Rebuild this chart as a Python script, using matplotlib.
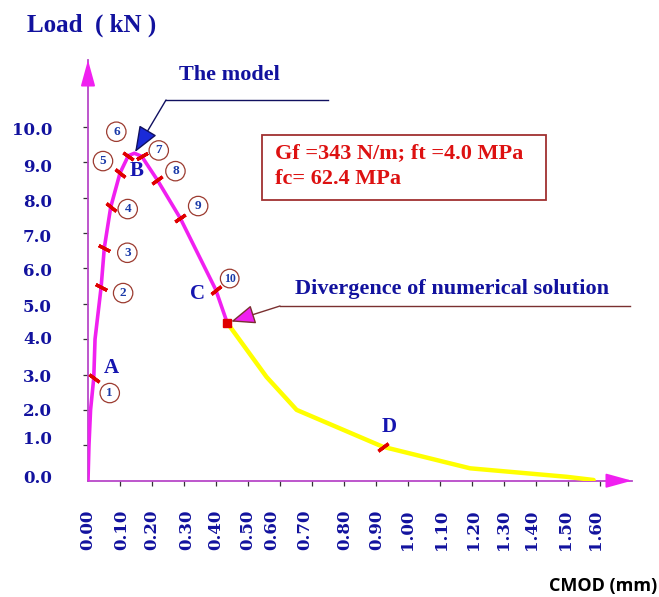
import numpy as np
import matplotlib
matplotlib.use('Agg')
import matplotlib.pyplot as plt
from matplotlib.lines import Line2D
from matplotlib.patches import Rectangle
from matplotlib.transforms import offset_copy

# model curve (magenta)
model_cmod = [0.0, 0.003, 0.008, 0.018, 0.022, 0.041, 0.051, 0.071, 0.100,
              0.126, 0.145, 0.168, 0.217, 0.288, 0.399, 0.435]
model_load = [0.0, 1.0, 2.0, 2.9, 4.0, 5.47, 6.58, 7.73, 8.69,
              9.18, 9.25, 9.16, 8.49, 7.42, 5.40, 4.46]

# after divergence (yellow)
tail_cmod = [0.435, 0.558, 0.652, 0.921, 1.194, 1.496, 1.58]
tail_load = [4.46, 2.93, 2.00, 0.96, 0.35, 0.11, 0.02]

# numbered load steps
step_cmod = [0.018, 0.041, 0.051, 0.071, 0.100, 0.126, 0.168, 0.217, 0.288, 0.399]
step_load = [2.9, 5.47, 6.58, 7.73, 8.69, 9.18, 9.16, 8.49, 7.42, 5.40]
step_tags = ['1', '2', '3', '4', '5', '6', '7', '8', '9', '10']

diverge_pt = (0.435, 4.46)
peak_pt = (0.145, 9.25)
point_d = (0.921, 0.96)

x_ticks = [0.0, 0.1, 0.2, 0.3, 0.4, 0.5, 0.6, 0.7, 0.8, 0.9, 1.0,
           1.1, 1.2, 1.3, 1.4, 1.5, 1.6]
x_labels = ['%.2f' % v for v in x_ticks]
y_ticks = [0, 1, 2, 3, 4, 5, 6, 7, 8, 9, 10]
y_labels = ['%.1f' % v for v in y_ticks]

params_text = 'Gf =343 N/m; ft =4.0 MPa\nfc= 62.4 MPa'

W, H = 659, 597
BLUE = '#12129e'
MAGENTA = '#f020f0'
AXCOL = '#b848c8'
RED = '#e00000'
SERIF = ['Liberation Serif', 'DejaVu Serif']
TICKFONT = ['DejaVu Serif']


def fpx(x, y):
    # reference pixel -> figure fraction
    return (x / W, 1 - y / H)


fig = plt.figure(figsize=(W / 100, H / 100), dpi=100)
ax = fig.add_axes([88 / W, 1 - 480.7 / H, (632 - 88) / W, (480.7 - 60) / H])
ax.set_xlim(0, 1.7)
ax.set_ylim(0, 420.7 / 35.4)
for s in ['top', 'right']:
    ax.spines[s].set_visible(False)
for s in ['left', 'bottom']:
    ax.spines[s].set_color(AXCOL)
    ax.spines[s].set_linewidth(1.3)
ax.patch.set_alpha(0)

ax.set_xticks(x_ticks[1:])
ax.set_yticks(y_ticks[1:])
ax.tick_params(axis='both', direction='out', length=3.6, width=0.9,
               color='#333333', labelbottom=False, labelleft=False)

# axis arrow heads
for tip, back in [((1, 0), (-22, 0)), ((0, 1), (0, -22))]:
    ax.annotate('', xy=tip, xycoords='axes fraction', xytext=back,
                textcoords='offset pixels',
                arrowprops=dict(arrowstyle='-|>,head_length=0.8,head_width=0.22',
                                color=MAGENTA, lw=1.3, mutation_scale=20,
                                shrinkA=0, shrinkB=0))

# tick labels, hand placed like the original slide
x_nudge = [0, 2, 0, 3, 0, 0, -8, -7, 1, 1, 0, 2, 1, -1, -4, -3, -5]
for v, lab, dx in zip(x_ticks, x_labels, x_nudge):
    ax.text(v, 0, lab, rotation=90, ha='center', va='top', color=BLUE,
            fontsize=12, fontweight='bold', family=TICKFONT,
            transform=offset_copy(ax.transData, fig, x=dx, y=-29, units='dots'))
y_nudge = [2, 6, -2, -3, 0, -4, -3, -5, -5, -5, -4]
for v, lab, dy in zip(y_ticks, y_labels, y_nudge):
    ax.text(0, v, lab, ha='right', va='center', color=BLUE,
            fontsize=12, fontweight='bold', family=TICKFONT,
            transform=offset_copy(ax.transData, fig, x=-36, y=dy, units='dots'))

# curves
ax.plot(tail_cmod, tail_load, color='#ffff00', lw=3.2, solid_capstyle='round',
        zorder=3)
ax.plot(model_cmod, model_load, color=MAGENTA, lw=2.6, solid_joinstyle='round',
        zorder=4)

# red step marks
slopes = [-37, -27, -27, -39, -39, -35, 30, 36, 34, 39]
for cx, ly, sl in zip(step_cmod, step_load, slopes):
    ax.plot(cx, ly, marker=(2, 2, sl - 90), markersize=9, mew=2.4,
            color=RED, zorder=5)
ax.plot(*point_d, marker=(2, 2, 37 - 90), markersize=9, mew=2.4, color=RED,
        zorder=5)
ax.plot(*diverge_pt, marker='s', markersize=6, color=RED, zorder=5)

# circled step numbers
circ_off = [(16, -15), (22, -6), (23, -5), (17, -2), (-17, 12), (-12, 24),
            (17, 6), (18, 9), (18, 12), (14, 11)]
for cx, ly, tag, off in zip(step_cmod, step_load, step_tags, circ_off):
    ax.annotate(tag, xy=(cx, ly), xytext=off, textcoords='offset pixels',
                ha='center', va='center', fontsize=8.5 if len(tag) > 1 else 9.5,
                fontweight='bold', family=SERIF, color='#1a3aa8', zorder=6,
                bbox=dict(boxstyle='circle,pad=0.28', fc='white', ec='#9c3b30',
                          lw=0.9))

# letters
letter_pts = [('A', step_cmod[0], step_load[0], (18, 10)),
              ('B', step_cmod[5], step_load[5], (8, -15)),
              ('C', step_cmod[9], step_load[9], (-18, -4)),
              ('D', point_d[0], point_d[1], (6, 20))]
for lab, cx, ly, off in letter_pts:
    ax.annotate(lab, xy=(cx, ly), xytext=off, textcoords='offset pixels',
                ha='center', va='center', fontsize=15, fontweight='bold',
                family=SERIF, color='#1515b0', zorder=6)

# "The model" callout
fig.text(*fpx(229, 75), 'The model', ha='center', va='center', fontsize=16,
         fontweight='bold', family=SERIF, color=BLUE)
fig.add_artist(Line2D([166 / W, 328 / W], [1 - 100 / H] * 2, color='#101060',
                      lw=1.0))
ax.annotate('', xy=peak_pt, xytext=fpx(166, 100), textcoords='figure fraction',
            arrowprops=dict(arrowstyle='-|>,head_length=0.9,head_width=0.35',
                            mutation_scale=18, fc='#1a2ad8', ec='#101060',
                            lw=1.0, shrinkA=0, shrinkB=1), zorder=7)

# divergence callout
fig.text(*fpx(295, 289), 'Divergence of numerical solution', ha='left',
         va='center', fontsize=16, fontweight='bold', family=SERIF, color=BLUE)
fig.add_artist(Line2D([280 / W, 630 / W], [1 - 306 / H] * 2, color='#7a3030',
                      lw=1.0))
ax.annotate('', xy=diverge_pt, xytext=fpx(280, 306),
            textcoords='figure fraction',
            arrowprops=dict(arrowstyle='-|>,head_length=1.0,head_width=0.4',
                            mutation_scale=15, fc=MAGENTA, ec='#7a3030',
                            lw=1.0, shrinkA=0, shrinkB=3), zorder=7)

# material parameters box
x0, y0 = fpx(262, 200)
x1, y1 = fpx(546, 135)
fig.add_artist(Rectangle((x0, y0), x1 - x0, y1 - y0, transform=fig.transFigure,
                         fill=False, ec='#a03030', lw=1.3))
fig.text(*fpx(275, 166), params_text, ha='left', va='center', fontsize=16,
         fontweight='bold', family=SERIF, color='#dd1111', linespacing=1.35)

# axis titles
fig.text(*fpx(27, 25), 'Load  ( kN )', ha='left', va='center', fontsize=18,
         fontweight='bold', family=SERIF, color=BLUE)
fig.text(*fpx(657, 586), 'CMOD (mm)', ha='right', va='center', fontsize=13,
         fontweight='bold', family=['Open Sans', 'DejaVu Sans'], color='black')

fig.savefig('out.png', dpi=100)
